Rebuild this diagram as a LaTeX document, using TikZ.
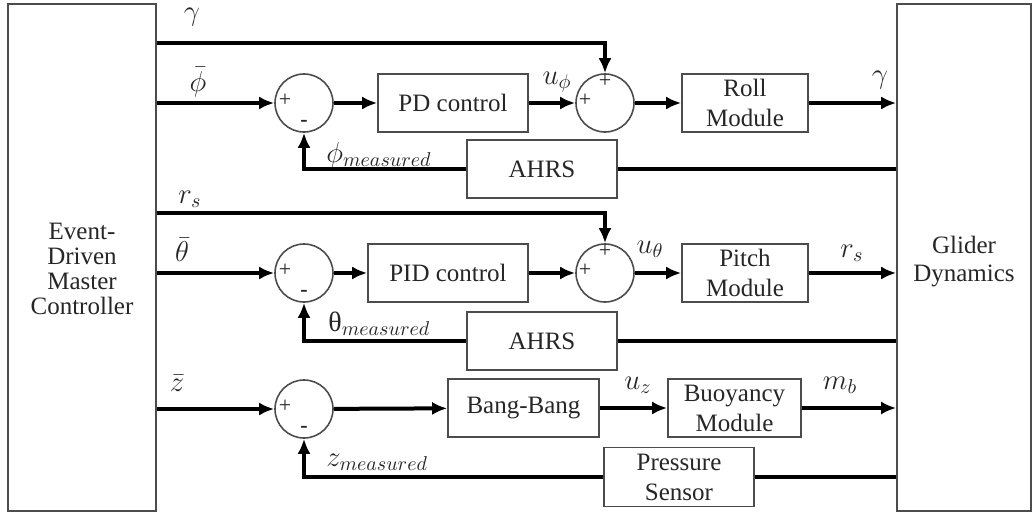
\documentclass[tikz,border=0pt]{standalone}
\usepackage{fontspec}
\setmainfont{Liberation Serif}
\usetikzlibrary{arrows.meta,calc,positioning}

\begin{document}
\begin{tikzpicture}[x=0.5pt, y=-0.5pt,
    every node/.style={text=black!85, font=\fontsize{12.5}{15}\selectfont},
    block/.style={draw=black!70, line width=0.8pt, align=center, inner sep=0pt, minimum height=29pt},
    sumnode/.style={circle, draw=black!70, line width=0.8pt, minimum size=29pt, inner sep=0pt},
    sig/.style={line width=2pt, -{Latex[length=7.5pt,width=6.5pt]}},
    wire/.style={line width=2pt},
    sign/.style={font=\fontsize{11}{11}\selectfont, inner sep=0pt},
    lab/.style={font=\fontsize{14}{14}\selectfont, inner sep=1pt}]
    \useasboundingbox (0,0) rectangle (1035,514);

    % outer blocks
    \node[block, minimum width=74pt, minimum height=253.5pt] (master) at (82,257.5) {};
    \node[align=center, font=\fontsize{12.5}{12.5}\selectfont] (mastertxt) at (82,269) {Event-\\Driven\\Master\\Controller};
    \node[block, minimum width=67pt, minimum height=253.5pt] (glider) at (964,257.5) {};
    \node[align=center, font=\fontsize{12.5}{14}\selectfont] (glidertxt) at (964,262) {Glider\\Dynamics};

    % roll loop
    \node[sumnode] (s1a) at (304,103) {};
    \node[block, minimum width=75pt] (pd) at (453,103) {PD control};
    \node[sumnode] (s2a) at (605,103) {};
    \node[block, minimum width=63pt] (roll) at (745,103) {Roll\\Module};
    \node[block, minimum width=75pt] (ahrsa) at (542,169) {AHRS};

    % pitch loop
    \node[sumnode] (s1b) at (304,273) {};
    \node[block, minimum width=80pt] (pid) at (448,273) {PID control};
    \node[sumnode] (s2b) at (605,273) {};
    \node[block, minimum width=63pt] (pitch) at (745,273) {Pitch\\Module};
    \node[block, minimum width=75pt] (ahrsb) at (542,341) {AHRS};

    % depth loop
    \node[sumnode] (s1c) at (304,409) {};
    \node[block, minimum width=75.5pt] (bang) at (523.5,408) {Bang-Bang};
    \node[block, minimum width=66.5pt] (buoy) at (734.5,408) {Buoyancy\\Module};
    \node[block, minimum width=75pt, minimum height=29.5pt] (press) at (679,477) {Pressure\\Sensor};

    % signs on the summing junctions
    \foreach \s in {s1a,s1b,s1c}{
        \node[sign] at ($(\s.west)+(11,-3)$) {+};
        \node[sign] at ($(\s.south)+(0,-9)$) {\textbf{-}};
    }
    \foreach \s in {s2a,s2b}{
        \node[sign] at ($(\s.west)+(10,-3)$) {+};
        \node[sign] at ($(\s.north)+(0,8)$) {+};
    }

    \coordinate (gamsrc) at (master.east |- 0,43);
    \coordinate (rssrc) at (master.east |- 0,213);

    % feed-forward and reference signals
    \draw[sig] (gamsrc) -| (s2a.north);
    \draw[sig] (master.east |- s1a) -- (s1a.west);
    \draw[sig] (s1a) -- (pd);
    \draw[sig] (pd) -- (s2a);
    \draw[sig] (s2a) -- (roll);
    \draw[sig] (roll) -- (glider.west |- roll);
    \draw[wire] (glider.west |- ahrsa) -- (ahrsa.east);
    \draw[sig] (ahrsa.west) -| (s1a.south);

    \draw[sig] (rssrc) -| (s2b.north);
    \draw[sig] (master.east |- s1b) -- (s1b.west);
    \draw[sig] (s1b) -- (pid);
    \draw[sig] (pid) -- (s2b);
    \draw[sig] (s2b) -- (pitch);
    \draw[sig] (pitch) -- (glider.west |- pitch);
    \draw[wire] (glider.west |- ahrsb) -- (ahrsb.east);
    \draw[sig] (ahrsb.west) -| (s1b.south);

    \draw[sig] (master.east |- s1c) -- (s1c.west);
    \draw[sig] (s1c) -- (bang);
    \draw[sig] (bang) -- (buoy);
    \draw[sig] (buoy) -- (glider.west |- buoy);
    \draw[wire] (glider.west |- press) -- (press.east);
    \draw[sig] (press.west) -| (s1c.south);

    % signal labels
    \node[lab] (lgam) at (192,17) {$\gamma$};
    \node[lab] (lphi) at (198,82) {$\bar{\phi}$};
    \node[lab] (lrs) at (190,199) {$r_s$};
    \node[lab] (lthe) at (182,250) {$\bar{\theta}$};
    \node[lab] (lz) at (177,383) {$\bar{z}$};
    \node[lab] (luphi) at (557,82) {$u_\phi$};
    \node[lab] (luthe) at (650,249) {$u_\theta$};
    \node[lab] (luz) at (638,385) {$u_z$};
    \node[lab] (lgamout) at (880,80) {$\gamma$};
    \node[lab] (lrsout) at (852,253) {$r_s$};
    \node[lab] (lmb) at (840,385) {$m_b$};
    \node[lab, anchor=west] (lphim) at (324,155) {$\phi_{measured}$};
    \node[lab, anchor=west] (lthem) at (326,324) {θ$_{measured}$};
    \node[lab, anchor=west] (lzm) at (324,462) {$z_{measured}$};
\end{tikzpicture}
\end{document}
